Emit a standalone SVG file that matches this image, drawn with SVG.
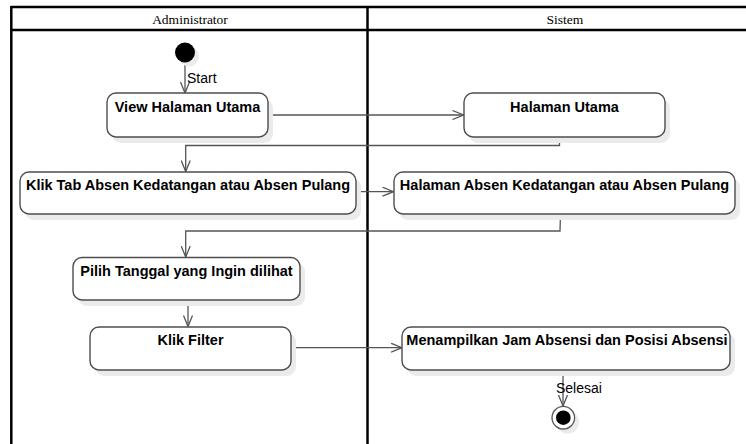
<svg xmlns="http://www.w3.org/2000/svg" width="746" height="444" viewBox="0 0 746 444">
  <style>
    .lane { stroke: #000; stroke-width: 2.5; fill: none; }
    .lane-title { font-family: "Liberation Serif", "Times New Roman", serif; font-size: 13.5px; fill: #000; text-anchor: middle; }
    .box { fill: #fff; stroke: #4d4d4d; stroke-width: 1.4; }
    .shadow { fill: #ebebeb; stroke: none; }
    .label { font-family: "Liberation Sans", Arial, sans-serif; font-weight: bold; font-size: 14.5px; fill: #000; text-anchor: middle; }
    .edge { fill: none; stroke: #555; stroke-width: 1.3; }
    .edge-label { font-family: "Liberation Sans", Arial, sans-serif; font-size: 14px; fill: #000; }
  </style>
  <defs>
    <marker id="open-arrow" viewBox="0 0 12 10" refX="11.5" refY="5" markerWidth="12" markerHeight="10" markerUnits="userSpaceOnUse" orient="auto">
      <path d="M0.5,0.5 L11.5,5 L0.5,9.5" fill="none" stroke="#555" stroke-width="1.3"/>
    </marker>
  </defs>

  <rect width="746" height="444" fill="#fff"/>

  <!-- swimlanes -->
  <g id="swimlanes">
    <line class="lane" x1="11" y1="7" x2="746" y2="7"/>
    <line class="lane" x1="11" y1="30" x2="746" y2="30"/>
    <line class="lane" x1="11.3" y1="6" x2="11.3" y2="444"/>
    <line class="lane" x1="367.5" y1="6" x2="367.5" y2="444"/>
    <text class="lane-title" x="190" y="24">Administrator</text>
    <text class="lane-title" x="565" y="24">Sistem</text>
  </g>

  <!-- connectors -->
  <g id="connectors">
    <line class="edge" x1="185" y1="63" x2="185" y2="93" marker-end="url(#open-arrow)"/>
    <text class="edge-label" x="187" y="83">Start</text>
    <line class="edge" x1="268" y1="115" x2="463.5" y2="115" marker-end="url(#open-arrow)"/>
    <polyline class="edge" points="559.5,137 559.5,145.5 185.7,145.5 185.7,171.5" marker-end="url(#open-arrow)"/>
    <line class="edge" x1="356" y1="191.7" x2="393.5" y2="191.7" marker-end="url(#open-arrow)"/>
    <polyline class="edge" points="560.5,214 560,231 185.7,231 185.7,257" marker-end="url(#open-arrow)"/>
    <line class="edge" x1="188" y1="300" x2="188" y2="326.5" marker-end="url(#open-arrow)"/>
    <line class="edge" x1="291" y1="347.7" x2="402" y2="347.7" marker-end="url(#open-arrow)"/>
    <line class="edge" x1="563" y1="370" x2="563" y2="406" marker-end="url(#open-arrow)"/>
    <text class="edge-label" x="556" y="392.5">Selesai</text>
  </g>

  <!-- initial node -->
  <g id="start">
    <circle class="shadow" cx="189" cy="56.5" r="10"/>
    <circle cx="185" cy="52.5" r="10" fill="#000"/>
  </g>

  <g id="view-halaman-utama">
    <rect class="shadow" x="112" y="99" width="161" height="44" rx="9"/>
    <rect class="box" x="107" y="93" width="161" height="44" rx="9"/>
    <text class="label" x="187.5" y="112">View Halaman Utama</text>
  </g>

  <g id="halaman-utama">
    <rect class="shadow" x="469" y="99" width="201" height="44" rx="9"/>
    <rect class="box" x="464" y="93" width="201" height="44" rx="9"/>
    <text class="label" x="564.5" y="112">Halaman Utama</text>
  </g>

  <g id="klik-tab-absen">
    <rect class="shadow" x="25" y="178" width="336" height="42" rx="9"/>
    <rect class="box" x="20" y="172" width="336" height="42" rx="9"/>
    <text class="label" x="188" y="190">Klik Tab Absen Kedatangan atau Absen Pulang</text>
  </g>

  <g id="halaman-absen">
    <rect class="shadow" x="399" y="178" width="341" height="42" rx="9"/>
    <rect class="box" x="394" y="172" width="341" height="42" rx="9"/>
    <text class="label" x="564.5" y="190">Halaman Absen Kedatangan atau Absen Pulang</text>
  </g>

  <g id="pilih-tanggal">
    <rect class="shadow" x="78" y="263" width="227" height="43" rx="9"/>
    <rect class="box" x="73" y="257.5" width="227" height="42.5" rx="9"/>
    <text class="label" x="186.5" y="276">Pilih Tanggal yang Ingin dilihat</text>
  </g>

  <g id="klik-filter">
    <rect class="shadow" x="95" y="333" width="201" height="43" rx="9"/>
    <rect class="box" x="90" y="327" width="201" height="43" rx="9"/>
    <text class="label" x="190.5" y="345">Klik Filter</text>
  </g>

  <g id="menampilkan-jam">
    <rect class="shadow" x="407" y="333" width="328" height="43" rx="9"/>
    <rect class="box" x="402" y="327" width="328" height="43" rx="9"/>
    <text class="label" x="567" y="345">Menampilkan Jam Absensi dan Posisi Absensi</text>
  </g>

  <!-- final node -->
  <g id="end">
    <circle class="shadow" cx="567.5" cy="422" r="11.5"/>
    <circle cx="563.3" cy="417.7" r="11.3" fill="#fff" stroke="#555" stroke-width="1.3"/>
    <circle cx="563.3" cy="417.7" r="7.3" fill="#000"/>
  </g>
</svg>
